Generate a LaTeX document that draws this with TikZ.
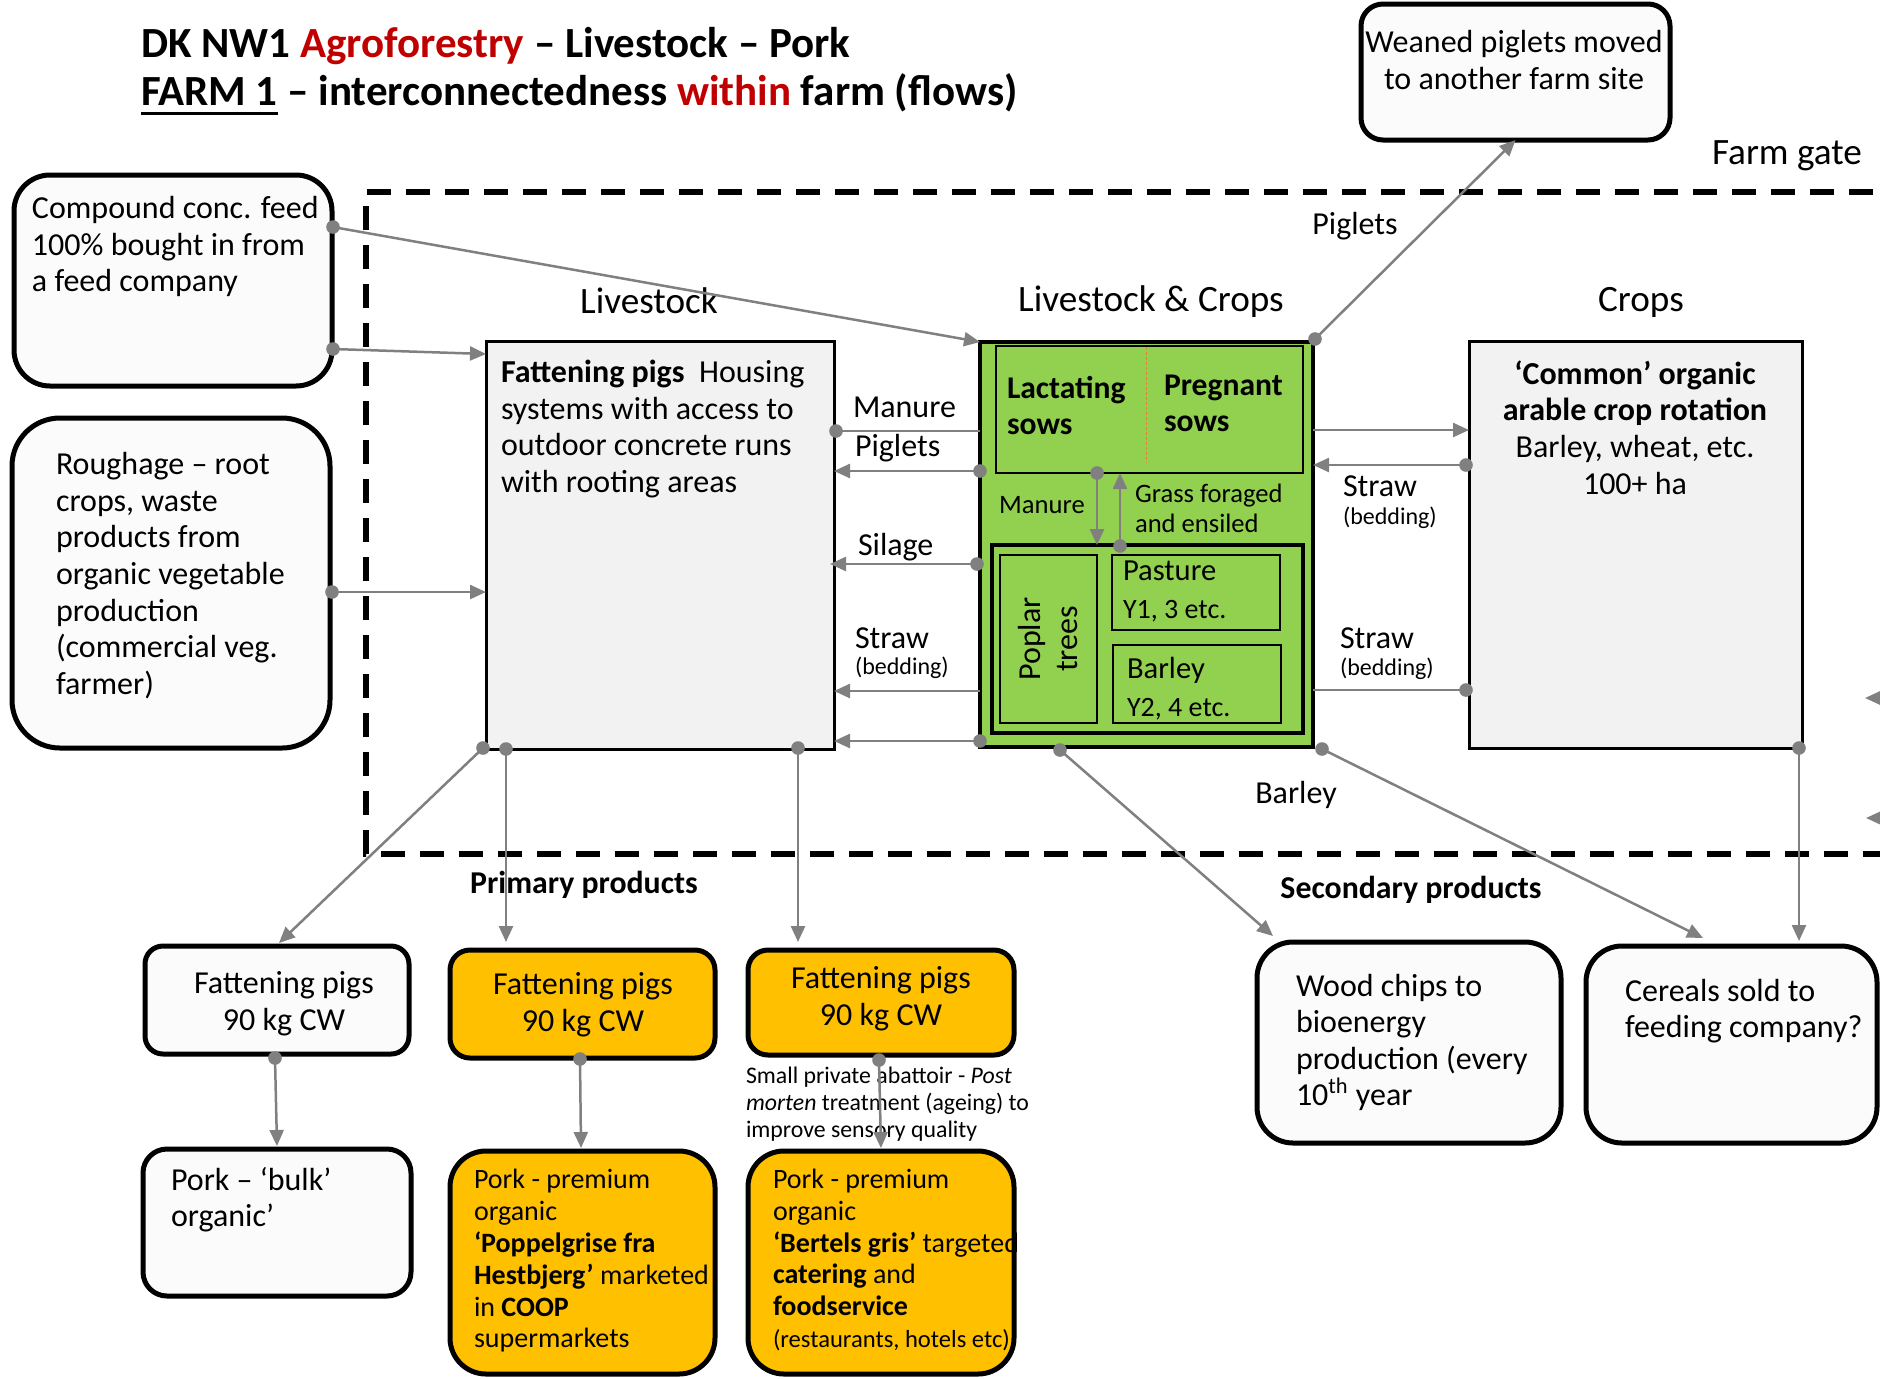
\documentclass[tikz,border=0pt]{standalone}
\usepackage{fontspec}
\setmainfont{Carlito}
\usetikzlibrary{arrows.meta,calc}

\definecolor{flowgray}{HTML}{808080}
\definecolor{agrogreen}{HTML}{92D050}
\definecolor{porkfill}{HTML}{FFC000}
\definecolor{boxgray}{HTML}{F2F2F2}
\definecolor{boxwhite}{HTML}{FBFBFB}
\definecolor{titlered}{HTML}{C00000}
\definecolor{divider}{HTML}{ED7D31}

\newcommand\fs[2]{\fontsize{#1}{#2}\selectfont}
\newcommand\ulfarm[1]{\setbox0=\hbox{#1}\rlap{\rule[-4.5pt]{\wd0}{1.5pt}}\box0\relax}

\tikzset{
  every node/.style={inner sep=0pt, outer sep=0pt},
  roundbox/.style={draw=black, line width=2.5pt, fill=boxwhite, rounded corners=#1},
  orangebox/.style={draw=black, line width=2.5pt, fill=porkfill, rounded corners=#1},
  squarebox/.style={draw=black, line width=1.5pt, fill=boxgray},
  plotbox/.style={draw=black, line width=0.7pt},
  gate/.style={draw=black, line width=2.6pt, dash pattern=on 12pt off 7.5pt},
  flow/.style={draw=flowgray, line width=1.25pt, -{Triangle[length=8pt,width=7pt]}},
  link/.style={draw=flowgray, line width=1.25pt},
  dot/.style={circle, fill=flowgray, minimum size=6.8pt},
  titlefont/.style={font=\fs{21.5}{25}\bfseries},
  body/.style={font=\fs{16}{18.3}},
  head/.style={font=\fs{18.6}{21}},
  small/.style={font=\fs{12}{14}},
  sowsfont/.style={font=\fs{15.8}{18}\bfseries},
  greensmall/.style={font=\fs{13.3}{15}},
  plotfont/.style={font=\fs{15.3}{19}},
  section/.style={font=\fs{15.9}{17}\bfseries},
  porkfont/.style={font=\fs{14}{15.9}},
  abatfont/.style={font=\fs{11.9}{13.5}},
}

\begin{document}
\begin{tikzpicture}[x=0.5pt,y=-0.5pt]
\useasboundingbox (0,0) rectangle (1880,1378);
\fill[white] (0,0) rectangle (1880,1378);
\clip (0,0) rectangle (1880,1378);

% title
\node[titlefont, anchor=base west] (title1) at (141,57.5)
  {DK NW1 \textcolor{titlered}{Agroforestry} – Livestock – Pork};
\node[titlefont, anchor=base west] (title2) at (141,105.5)
  {\ulfarm{FARM 1} – interconnectedness \textcolor{titlered}{within} farm (flows)};

% farm gate boundary
\draw[gate] (1990,192) -- (366,192) -- (366,854) -- (1990,854);
\node[head] (gateT) at (1787,156) {Farm gate};

% boxes
\node[roundbox=11pt, minimum width=154.5pt, minimum height=68pt] (weaned) at (1515.5,72) {};
\node[roundbox=18pt, minimum width=159pt, minimum height=105.5pt] (comp) at (173,280.5) {};
\node[roundbox=24pt, minimum width=159pt, minimum height=165pt] (rough) at (171,583) {};
\node[squarebox, minimum width=174pt, minimum height=204pt] (live) at (660,545) {};
\node[draw=black, line width=1.8pt, fill=agrogreen, minimum width=166.5pt, minimum height=202.5pt] (green) at (1146.5,544.5) {};
\node[draw=black, line width=1pt, minimum width=153.5pt, minimum height=63.5pt] (sows) at (1149.5,409.5) {};
\node[draw=black, line width=1.7pt, minimum width=155.5pt, minimum height=94pt] (field) at (1147.5,639) {};
\node[plotbox, minimum width=48.5pt, minimum height=84pt] (poplar) at (1048.5,639) {};
\node[plotbox, minimum width=84pt, minimum height=37.5pt] (pasture) at (1196,592.5) {};
\node[plotbox, minimum width=84pt, minimum height=39pt] (barley) at (1197,684) {};
\node[squarebox, minimum width=166.5pt, minimum height=203.5pt] (crops) at (1635.5,544.5) {};
\node[roundbox=9pt, minimum width=132pt, minimum height=54pt] (pigA) at (277,1000) {};
\node[orangebox=10pt, minimum width=132.5pt, minimum height=54pt] (pigB) at (582.5,1004) {};
\node[orangebox=10pt, minimum width=133pt, minimum height=52.5pt] (pigC) at (881,1002.5) {};
\node[roundbox=12pt, minimum width=134pt, minimum height=73.5pt] (porkA) at (277,1222.5) {};
\node[orangebox=18pt, minimum width=132.5pt, minimum height=111.5pt] (porkB) at (582.5,1262.5) {};
\node[orangebox=18pt, minimum width=133pt, minimum height=111.5pt] (porkC) at (881,1262.5) {};
\node[roundbox=18pt, minimum width=152pt, minimum height=100.5pt] (wood) at (1409,1042.5) {};
\node[roundbox=18pt, minimum width=145.5pt, minimum height=98.5pt] (cereal) at (1731.5,1044.5) {};

% divider between the two sow groups
\draw[divider, line width=0.5pt, dash pattern=on 1.5pt off 1pt] (1146,347) -- (1146,463);

% texts in and around the boxes
\node[body, align=center] (weanedT) at (1514,60) {Weaned piglets moved\\to another farm site};
\node[body, anchor=west, align=left] (compT) at (32,246.5) {Compound conc. feed\\100\% bought in from\\a feed company};
\node[body, anchor=west, align=left] (roughT) at (56,575.5) {Roughage – root\\crops, waste\\products from\\organic vegetable\\production\\(commercial veg.\\farmer)};
\node[head] (liveH) at (649,301) {Livestock};
\node[head] (greenH) at (1151,302) {Livestock \& Crops};
\node[head] (cropsH) at (1641,302) {Crops};
\node[body, anchor=west, align=left] (liveT) at (501,429) {\textbf{Fattening pigs}\ \ Housing\\systems with access to\\outdoor concrete runs\\with rooting areas};
\node[sowsfont, anchor=west, align=left] (lactT) at (1007,405) {Lactating\\sows};
\node[sowsfont, anchor=west, align=left] (pregT) at (1164,403.5) {Pregnant\\sows};
\node[greensmall] (manGT) at (1042,505) {Manure};
\node[greensmall, anchor=west, align=left] (grassT) at (1135,508) {Grass foraged\\and ensiled};
\node[body, rotate=90, align=center] (poplarT) at (1048,639) {Poplar\\trees};
\node[plotfont, anchor=west, align=left] (pastureT) at (1123,591) {Pasture\\{\fs{14}{19}Y1, 3 etc.}};
\node[plotfont, anchor=west, align=left] (barleyT) at (1127,688.5) {Barley\\{\fs{14}{19}Y2, 4 etc.}};
\node[body, align=center] (cropsT) at (1635,427.5) {\textbf{‘Common’ organic}\\\textbf{arable crop rotation}\\Barley, wheat, etc.\\100+ ha};

% flow labels
\node[body, anchor=west] (lManure) at (853,407) {Manure};
\node[body, anchor=west] (lPiglets) at (855,448) {Piglets};
\node[body, anchor=west] (lSilage) at (858,547) {Silage};
\node[body, anchor=west] (lStrawL) at (855,638) {Straw};
\node[small, anchor=west] (lBedL) at (855,668) {(bedding)};
\node[body, anchor=west] (lStrawR1) at (1343,486) {Straw};
\node[small, anchor=west] (lBedR1) at (1343,518) {(bedding)};
\node[body, anchor=west] (lStrawR2) at (1340,638) {Straw};
\node[small, anchor=west] (lBedR2) at (1340,669) {(bedding)};
\node[body] (lPigW) at (1355,226) {Piglets};
\node[body] (lBarley) at (1296,795) {Barley};

% products
\node[section] (primT) at (584,885) {Primary products};
\node[section] (secT) at (1411,890) {Secondary products};
\node[body, align=center] (pigAT) at (284,1003.5) {Fattening pigs\\90 kg CW};
\node[body, align=center] (pigBT) at (583,1005) {Fattening pigs\\90 kg CW};
\node[body, align=center] (pigCT) at (881,999) {Fattening pigs\\90 kg CW};
\node[body, anchor=west, align=left] (porkAT) at (171,1199.5) {Pork – ‘bulk’\\organic’};
\node[porkfont, anchor=west, align=left] (porkBT) at (474,1261) {Pork - premium\\organic\\\textbf{‘Poppelgrise fra}\\\textbf{Hestbjerg’} marketed\\in \textbf{COOP}\\supermarkets};
\node[porkfont, anchor=west, align=left] (porkCT) at (773,1260) {Pork - premium\\organic\\\textbf{‘Bertels gris’} targeted\\\textbf{catering} and\\\textbf{foodservice}\\{\fs{12.3}{15.9}(restaurants, hotels etc)}};
\node[abatfont, anchor=west, align=left] (abatT) at (746,1104) {Small private abattoir - \textit{Post}\\\textit{morten} treatment (ageing) to\\improve sensory quality};
\node[body, anchor=west, align=left] (woodT) at (1296,1042.5) {Wood chips to\\bioenergy\\production (every\\10\textsuperscript{th} year};
\node[body, anchor=west, align=left] (cerealT) at (1625,1011) {Cereals sold to\\feeding company?};

% connector start dots
\node[dot] (dComp1) at (333,227) {};
\node[dot] (dComp2) at (333,349) {};
\node[dot] (dRough) at (332,592) {};
\node[dot] (dManL) at (836,431) {};
\node[dot] (dPigL) at (980,471) {};
\node[dot] (dSil) at (977,564) {};
\node[dot] (dLow) at (980,741) {};
\node[dot] (dStrR1) at (1466,465) {};
\node[dot] (dStrR2) at (1466,690) {};
\node[dot] (dPigW) at (1315,339) {};
\node[dot] (dManG) at (1097,473) {};
\node[dot] (dGrass) at (1120,546) {};
\node[dot] (dLiv1) at (483,748) {};
\node[dot] (dLiv2) at (506,749) {};
\node[dot] (dLiv3) at (798,748) {};
\node[dot] (dGrn1) at (1060,750) {};
\node[dot] (dGrn2) at (1322,749) {};
\node[dot] (dCrops) at (1799,748) {};
\node[dot] (dPigA) at (275,1058) {};
\node[dot] (dPigB) at (580,1059) {};
\node[dot] (dPigC) at (879,1060) {};
\coordinate (offR1) at (1910,698);
\coordinate (offR2) at (1910,818);
\coordinate (edgeR1) at (1865,698);
\coordinate (edgeR2) at (1866,818);

% flows
\draw[flow] (dComp1.center) -- (green.north west);
\draw[flow] (dComp2.center) -- ($(live.north west)+(0,13)$);
\draw[flow] (dRough.center) -- (live.west |- dRough);
\draw[link] (dManL.center) -- (green.west |- dManL);
\draw[flow] (dPigL.center) -- (live.east |- dPigL);
\draw[flow] (dSil.center) -- ($(live.east |- dSil)+(-4,0)$);
\draw[flow] (green.west |- 0,691) -- (live.east |- 0,691);
\draw[flow] (dLow.center) -- (live.east |- dLow);
\draw[flow] (green.east |- 0,430) -- (crops.west |- 0,430);
\draw[flow] (dStrR1.center) -- (green.east |- dStrR1);
\draw[link] (dStrR2.center) -- (green.east |- dStrR2);
\draw[flow] (dPigW.center) -- (weaned.south);
\draw[flow] (dManG.center) -- (field.north -| dManG);
\draw[flow] (dGrass.center) -- (sows.south -| dGrass);
\draw[flow] (dLiv1.center) -- ($(pigA.north)+(2,-3)$);
\draw[flow] (dLiv2.center) -- ($(pigB.north -| dLiv2)+(0,-8)$);
\draw[flow] (dLiv3.center) -- ($(pigC.north -| dLiv3)+(0,-8)$);
\draw[flow] (dGrn1.center) -- ($(wood.north west)+(16,-6)$);
\draw[flow] (dGrn2.center) -- ($(cereal.north west)+(117,-8)$);
\draw[flow] (dCrops.center) -- ($(cereal.north -| dCrops)+(0,-5)$);
\draw[flow] (dPigA.center) -- ($(porkA.north -| dPigA)+(2,-3)$);
\draw[flow] (dPigB.center) -- ($(porkB.north -| dPigB)+(1,-3)$);
\draw[flow] (dPigC.center) -- ($(porkC.north -| dPigC)+(2,-3)$);
\draw[flow] (offR1) -- (edgeR1);
\draw[flow] (offR2) -- (edgeR2);
\end{tikzpicture}
\end{document}
